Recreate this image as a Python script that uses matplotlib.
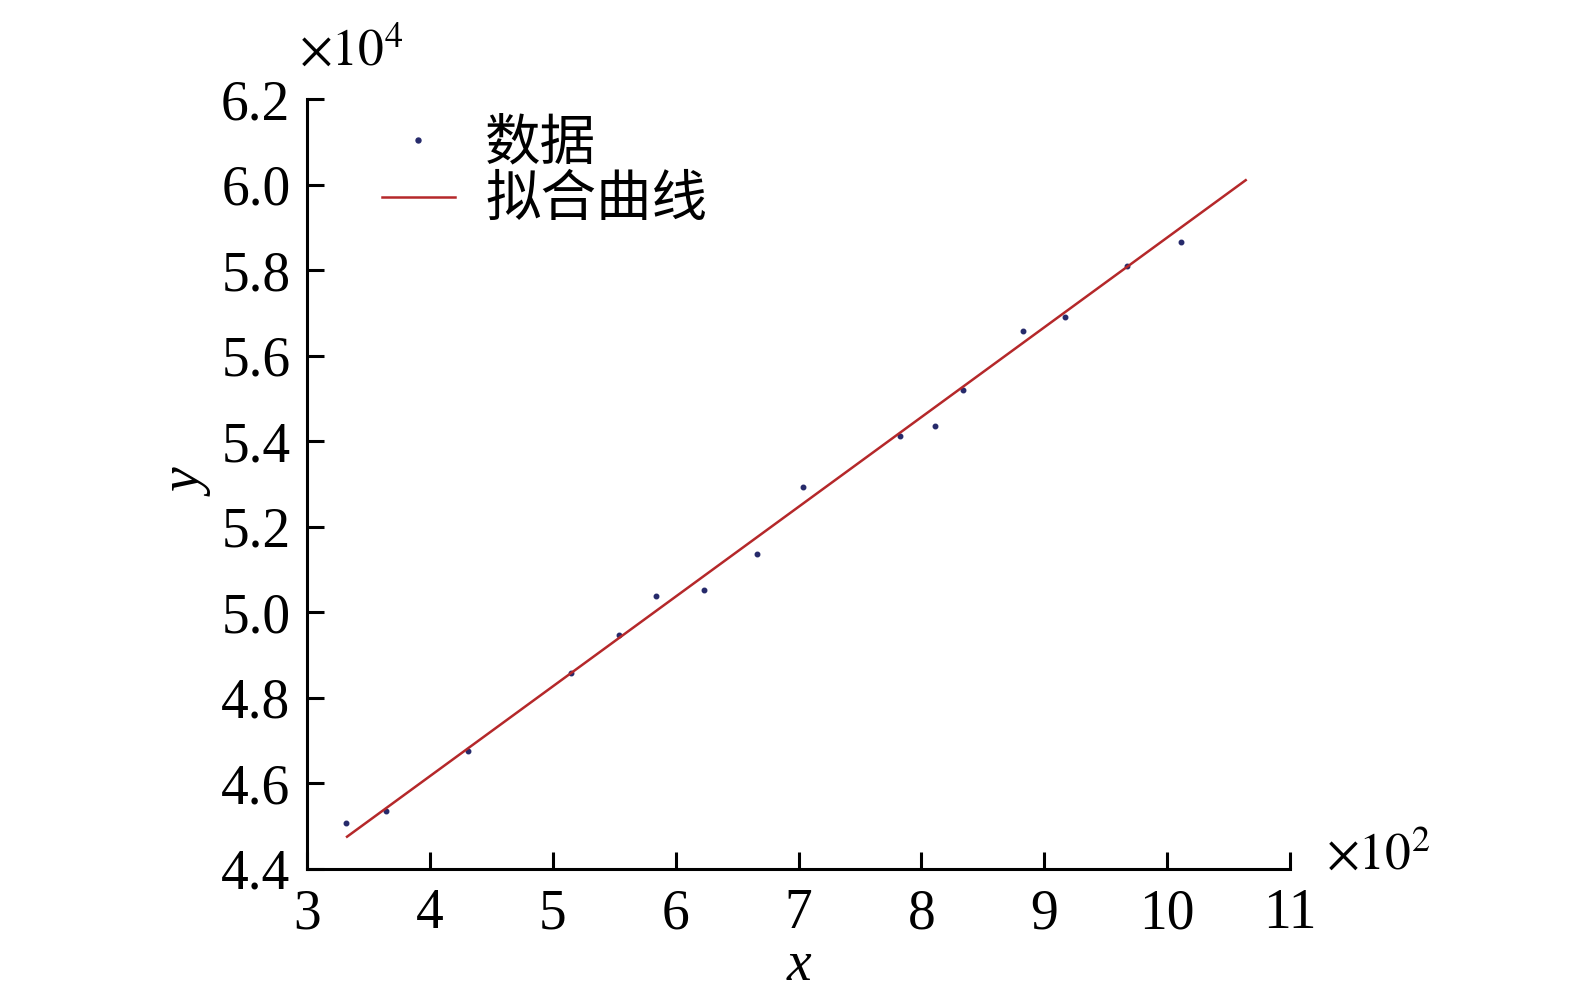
import numpy as np
import matplotlib
matplotlib.use("Agg")
import matplotlib.pyplot as plt
from matplotlib.ticker import FuncFormatter

plt.rcParams['font.family'] = ['Liberation Serif', 'Noto Sans CJK SC']
plt.rcParams['mathtext.fontset'] = 'stix'

# 数据 (x 原值, y 原值)
x_data = [332, 364, 431, 515, 554, 584, 623, 666, 704, 783, 811, 834, 883, 917, 967, 1011]
y_data = [45060, 45360, 46750, 48580, 49470, 50380, 50530, 51370, 52940,
          54120, 54350, 55200, 56580, 56900, 58110, 58660]

# 拟合曲线端点
fit_x = [332.5, 1064]
fit_y = [44750, 60110]

x_ticks = [300, 400, 500, 600, 700, 800, 900, 1000, 1100]
y_ticks = [44000, 46000, 48000, 50000, 52000, 54000, 56000, 58000, 60000, 62000]

fig = plt.figure(figsize=(15.75, 9.94), dpi=100)
ax = fig.add_axes([0.195, 0.126, 0.624, 0.774])

ax.plot(x_data, y_data, '.', color='#262a6b', markersize=6.5, label='数据')
ax.plot(fit_x, fit_y, '-', color='#b5282a', linewidth=1.8, label='拟合曲线')

ax.set_xlim(300, 1100)
ax.set_ylim(44000, 62000)
ax.set_xticks(x_ticks)
ax.set_yticks(y_ticks)
ax.xaxis.set_major_formatter(FuncFormatter(lambda v, p: f"{v/100:g}"))
ax.yaxis.set_major_formatter(FuncFormatter(lambda v, p: f"{v/1e4:.1f}"))

for s in ['top', 'right']:
    ax.spines[s].set_visible(False)
for s in ['left', 'bottom']:
    ax.spines[s].set_linewidth(2.2)
ax.tick_params(direction='in', length=12, width=2.2, labelsize=40)
ax.tick_params(axis='x', pad=14)
ax.tick_params(axis='y', pad=12)

ax.set_xlabel('x', fontsize=40, style='italic', labelpad=0)
ax.set_ylabel('y', fontsize=40, style='italic', labelpad=4)

fig.text(0.19, 0.947, r'$\times10^{4}$', fontsize=37, ha='left', va='center')
fig.text(0.842, 0.138, r'$\times10^{2}$', fontsize=37, ha='left', va='center')

ax.legend(loc='upper left', bbox_to_anchor=(0.211, 0.93), bbox_transform=fig.transFigure,
          frameon=False, fontsize=40, handlelength=1.3, handletextpad=0.55,
          labelspacing=0.08, markerscale=1.1)

fig.savefig('out.png', dpi=100)
